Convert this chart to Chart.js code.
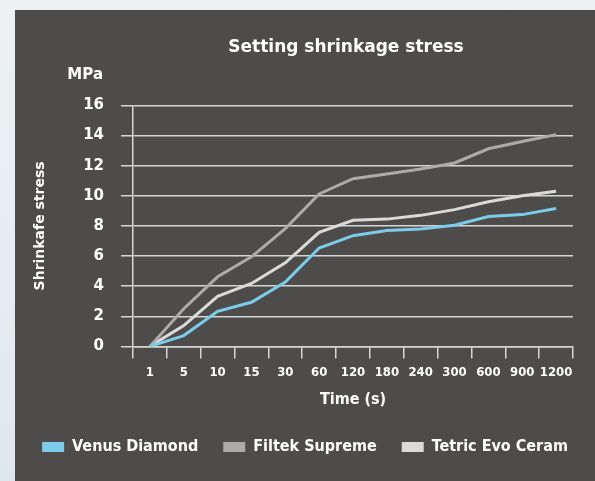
<!DOCTYPE html>
<html lang="en">
<head>
    <meta charset="UTF-8">
    <title>Setting shrinkage stress</title>
    <script src="https://cdn.jsdelivr.net/npm/chart.js"></script>
    <style>
        html, body { margin: 0; padding: 0; }
        body {
            width: 595px; height: 481px; overflow: hidden;
            background: linear-gradient(180deg, #edf1f4 0%, #e6ecf0 60%, #dfe7ee 100%);
        }
        #panel {
            position: absolute; left: 15px; top: 10px;
            width: 580px; height: 471px;
            background: #4d4c4a;
        }
    </style>
</head>
<body>
    <div id="panel">
        <canvas id="stressChart" width="580" height="471"></canvas>
    </div>
    <script>
        // valores (MPa)
        const times = ['1', '5', '10', '15', '30', '60', '120', '180', '240', '300', '600', '900', '1200'];
        const venusDiamond = [0, 0.72, 2.33, 2.93, 4.27, 6.53, 7.35, 7.7, 7.8, 8.04, 8.62, 8.75, 9.16];
        const filtekSupreme = [0, 2.5, 4.62, 5.95, 7.82, 10.12, 11.13, 11.45, 11.78, 12.18, 13.12, 13.6, 14.06];
        const tetricEvoCeram = [0, 1.38, 3.32, 4.18, 5.55, 7.57, 8.37, 8.45, 8.7, 9.08, 9.6, 10.0, 10.3];
        const yTicks = [0, 2, 4, 6, 8, 10, 12, 14, 16];

        const cond = "'DejaVu Sans Condensed', sans-serif";
        const sans = "'DejaVu Sans', sans-serif";
        const white = '#ffffff';
        const gridColor = '#d6d6d6';

        // rótulo "MPa" acima do eixo y + título um pouco à esquerda
        const unitLabel = {
            id: 'unitLabel',
            afterLayout(chart) {
                if (chart.titleBlock) chart.titleBlock.left -= 14;
            },
            afterDraw(chart) {
                const y = chart.scales.y;
                const ctx = chart.ctx;
                ctx.save();
                ctx.fillStyle = white;
                ctx.font = 'bold 15px ' + sans;
                ctx.textAlign = 'right';
                ctx.textBaseline = 'middle';
                ctx.fillText('MPa', y.right - 30, y.getPixelForValue(16) - 30);
                ctx.restore();
            }
        };

        const ctx = document.getElementById('stressChart').getContext('2d');
        new Chart(ctx, {
            type: 'line',
            data: {
                labels: times,
                datasets: [{
                    label: 'Venus Diamond',
                    data: venusDiamond,
                    borderColor: '#7ccbea',
                    backgroundColor: '#7ccbea'
                }, {
                    label: 'Filtek Supreme',
                    data: filtekSupreme,
                    borderColor: '#ababab',
                    backgroundColor: '#ababab'
                }, {
                    label: 'Tetric Evo Ceram',
                    data: tetricEvoCeram,
                    borderColor: '#dadada',
                    backgroundColor: '#dadada'
                }]
            },
            options: {
                responsive: false,
                animation: false,
                elements: {
                    line: { borderWidth: 3, tension: 0 },
                    point: { radius: 0 }
                },
                layout: { padding: { left: 0, right: 0, bottom: 16 } },
                scales: {
                    x: {
                        offset: true,
                        grid: {
                            offset: true,
                            drawOnChartArea: false,
                            drawTicks: true,
                            tickLength: 12,
                            color: gridColor,
                            lineWidth: 1.5
                        },
                        border: { color: gridColor, width: 1.5 },
                        ticks: {
                            color: white,
                            padding: 6,
                            maxRotation: 0,
                            autoSkip: false,
                            font: { family: cond, size: 13, weight: 'bold' }
                        },
                        title: {
                            display: true,
                            text: 'Time (s)',
                            color: white,
                            padding: { top: 4.3, bottom: 4.5 },
                            font: { family: cond, size: 16, weight: 'bold' }
                        }
                    },
                    y: {
                        min: 0,
                        max: 16,
                        afterBuildTicks(scale) {
                            scale.ticks = yTicks.map(v => ({ value: v }));
                        },
                        afterFit(scale) { scale.width = 118; },
                        grid: {
                            color: gridColor,
                            lineWidth: 1.5,
                            tickLength: 12
                        },
                        border: { color: gridColor, width: 1.5 },
                        ticks: {
                            color: white,
                            padding: 17,
                            font: { family: sans, size: 15, weight: 'bold' }
                        },
                        title: {
                            display: true,
                            text: 'Shrinkafe stress',
                            color: white,
                            padding: { top: 17, bottom: 0 },
                            font: { family: sans, size: 14, weight: 'bold' }
                        }
                    },
                    // margem à direita da área do gráfico, sem ocupar a largura da legenda
                    gap: {
                        type: 'linear',
                        position: 'right',
                        afterFit(scale) { scale.width = 22; },
                        grid: { display: false },
                        border: { display: false },
                        ticks: { display: false }
                    }
                },
                plugins: {
                    title: {
                        display: true,
                        fullSize: false,
                        text: 'Setting shrinkage stress',
                        color: white,
                        padding: { top: 27, bottom: 48 },
                        font: { family: sans, size: 17, weight: 'bold' }
                    },
                    legend: {
                        position: 'bottom',
                        labels: {
                            color: white,
                            boxWidth: 22,
                            boxHeight: 10,
                            padding: 25,
                            font: { family: cond, size: 16, weight: 'bold' },
                            generateLabels(chart) {
                                const items = Chart.defaults.plugins.legend.labels.generateLabels(chart);
                                return items.map(it => Object.assign(it, { lineWidth: 0 }));
                            }
                        }
                    },
                    tooltip: { enabled: false }
                }
            },
            plugins: [unitLabel]
        });
    </script>
</body>
</html>
